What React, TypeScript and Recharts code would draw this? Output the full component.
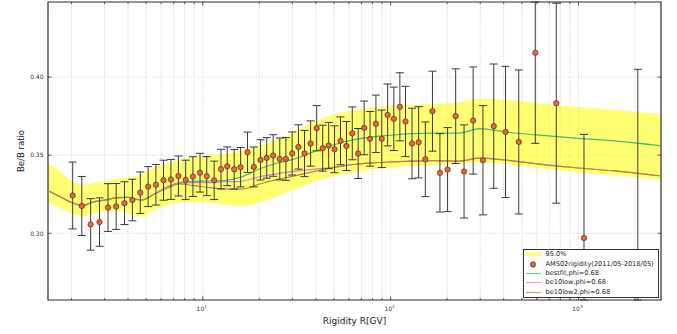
import React from 'react';
import {
  ComposedChart,
  XAxis,
  YAxis,
  CartesianGrid,
  Area,
  Line,
  Scatter,
  ErrorBar,
  Legend,
  ReferenceArea,
} from 'recharts';

// ---------- model curves (grid in rigidity, GV) ----------
const modelR = [1.5, 1.75, 2.0, 2.3, 2.6, 3.0, 3.5, 4.0, 4.7, 5.5, 6.5, 7.5, 9, 11, 13, 16, 20, 25, 30, 40, 50, 65, 80, 100, 130, 170, 230, 300, 400, 600, 1000, 1600, 2750];
const bandHigh = [0.3445, 0.3395, 0.3335, 0.3312, 0.3322, 0.3335, 0.3348, 0.3358, 0.3378, 0.3420, 0.3450, 0.3470, 0.3490, 0.3500, 0.3510, 0.3530, 0.3560, 0.3600, 0.3645, 0.3720, 0.3760, 0.3790, 0.3805, 0.3815, 0.3822, 0.3828, 0.3838, 0.3862, 0.3855, 0.3835, 0.3808, 0.3790, 0.3763];
const bandLow = [0.3201, 0.3160, 0.3128, 0.3110, 0.3125, 0.3140, 0.3145, 0.3125, 0.3108, 0.3148, 0.3180, 0.3195, 0.3200, 0.3195, 0.3185, 0.3172, 0.3195, 0.3235, 0.3275, 0.3335, 0.3365, 0.3392, 0.3410, 0.3420, 0.3430, 0.3438, 0.3445, 0.3455, 0.3445, 0.3420, 0.3390, 0.3370, 0.3344];
const bestfit = [0.3273, 0.3233, 0.3197, 0.3178, 0.3200, 0.3212, 0.3228, 0.3230, 0.3212, 0.3250, 0.3300, 0.3325, 0.3333, 0.3335, 0.3338, 0.3360, 0.3412, 0.3450, 0.3472, 0.3528, 0.3567, 0.3601, 0.3617, 0.3628, 0.3638, 0.3642, 0.3642, 0.3670, 0.3650, 0.3630, 0.3608, 0.3590, 0.3560];
const be10low = [0.3273, 0.3233, 0.3197, 0.3178, 0.3200, 0.3212, 0.3228, 0.3230, 0.3212, 0.3250, 0.3298, 0.3320, 0.3325, 0.3325, 0.3330, 0.3333, 0.3362, 0.3382, 0.3396, 0.3412, 0.3422, 0.3442, 0.3451, 0.3457, 0.3462, 0.3465, 0.3462, 0.3481, 0.3470, 0.3445, 0.3418, 0.3398, 0.3367];
const be10low2 = [0.3273, 0.3233, 0.3197, 0.3178, 0.3200, 0.3212, 0.3228, 0.3230, 0.3212, 0.3250, 0.3290, 0.3316, 0.3305, 0.3292, 0.3284, 0.3283, 0.3315, 0.3345, 0.3365, 0.3398, 0.3422, 0.3442, 0.3451, 0.3457, 0.3462, 0.3465, 0.3462, 0.3481, 0.3470, 0.3445, 0.3418, 0.3398, 0.3367];

// ---------- AMS02 data points ----------
const rigidity = [2.03, 2.27, 2.53, 2.82, 3.13, 3.46, 3.83, 4.22, 4.65, 5.12, 5.63, 6.18, 6.77, 7.42, 8.11, 8.86, 9.67, 10.5, 11.5, 12.5, 13.5, 14.7, 15.9, 17.3, 18.7, 20.3, 21.9, 23.7, 25.7, 27.7, 29.9, 32.3, 34.8, 37.5, 40.4, 43.5, 46.8, 50.3, 54.1, 58.2, 62.5, 67.2, 72.3, 77.7, 83.5, 89.7, 96.4, 104, 112, 120, 130, 141, 153, 167, 183, 201, 222, 246, 275, 310, 354, 409, 481, 589, 762, 1070, 2070];
const ratio = [0.3242, 0.3175, 0.3057, 0.3072, 0.3165, 0.3172, 0.3193, 0.3213, 0.3260, 0.3299, 0.3311, 0.3340, 0.3345, 0.3367, 0.3342, 0.3363, 0.3388, 0.3366, 0.3339, 0.3411, 0.3429, 0.3410, 0.3423, 0.3519, 0.3425, 0.3470, 0.3483, 0.3498, 0.3476, 0.3476, 0.3511, 0.3553, 0.3511, 0.3575, 0.3673, 0.3545, 0.3562, 0.3538, 0.3592, 0.3559, 0.3640, 0.3511, 0.3675, 0.3605, 0.3701, 0.3605, 0.3758, 0.3733, 0.3810, 0.3716, 0.3575, 0.3583, 0.3474, 0.3782, 0.3387, 0.3408, 0.3750, 0.3396, 0.3722, 0.3468, 0.3686, 0.3649, 0.3585, 0.4156, 0.3833, 0.2970, 0.2800];
const ratioErr = [0.0214, 0.0189, 0.0165, 0.0155, 0.0153, 0.0147, 0.0137, 0.0133, 0.0133, 0.0128, 0.0130, 0.0128, 0.0128, 0.0128, 0.0126, 0.0127, 0.0124, 0.0125, 0.0123, 0.0127, 0.0124, 0.0127, 0.0126, 0.0129, 0.0128, 0.0129, 0.0130, 0.0133, 0.0134, 0.0137, 0.0138, 0.0142, 0.0148, 0.0145, 0.0145, 0.0147, 0.0148, 0.0150, 0.0153, 0.0157, 0.0169, 0.0160, 0.0172, 0.0175, 0.0184, 0.0184, 0.0198, 0.0203, 0.0218, 0.0225, 0.0226, 0.0228, 0.0239, 0.0256, 0.0251, 0.0269, 0.0303, 0.0298, 0.0343, 0.0350, 0.0398, 0.0420, 0.0461, 0.0580, 0.0640, 0.0663, 0.1250];

// ---------- axes ----------
const xDomain = [1.5, 2750];
const yDomain = [0.2573, 0.4481];
const xMajorTicks = [10, 100, 1000];
const xMinorTicks = [2, 3, 4, 5, 6, 7, 8, 9, 20, 30, 40, 50, 60, 70, 80, 90, 200, 300, 400, 500, 600, 700, 800, 900, 2000];
const yTicks = [0.3, 0.35, 0.4];

const legendLabels = ['95.0%', 'AMS02rigidity(2011/05-2018/05)', 'bestfit,phi=0.68', 'be10low,phi=0.68', 'be10low2,phi=0.68'];

const modelData = modelR.map((r, i) => ({
  r,
  band: [bandLow[i], bandHigh[i]],
  bestfit: bestfit[i],
  be10low: be10low[i],
  be10low2: be10low2[i],
}));
// error bars are cut at the plot frame, as in the original figure
const pointData = rigidity.map((r, i) => ({
  r,
  v: ratio[i],
  err: [Math.min(ratioErr[i], ratio[i] - yDomain[0]), Math.min(ratioErr[i], yDomain[1] - ratio[i])],
}));
const allXTicks = [...xMajorTicks, ...xMinorTicks].sort((a, b) => a - b);

const FONT = 'DejaVu Sans, Verdana, sans-serif';
const W = 677;
const H = 334;
const PLOT_TOP = 2;
const PLOT_BOTTOM = 300;
const PLOT_LEFT = 48;
const PLOT_RIGHT = 661;

const C_BAND = '#ffff00';
const C_GREEN = '#4cb866';
const C_PINK = '#d77fd8';
const C_OLIVE = '#b68a2c';
const C_DOT = '#e8643c';
const C_AX = '#333333';

const XTick = (props: any) => {
  const { x, payload } = props;
  const v = payload.value;
  const major = xMajorTicks.includes(v);
  const len = major ? 3.5 : 2;
  return (
    <g>
      <line x1={x} x2={x} y1={PLOT_BOTTOM} y2={PLOT_BOTTOM - len} stroke={C_AX} strokeWidth={0.8} />
      <line x1={x} x2={x} y1={PLOT_TOP} y2={PLOT_TOP + len} stroke={C_AX} strokeWidth={0.8} />
      {major && (
        <text x={x - 1} y={310.8} textAnchor="middle" fontSize={6} fill={C_AX} fontFamily={FONT}>
          10
          <tspan dy={-2.6} fontSize={4.3}>{Math.round(Math.log10(v))}</tspan>
        </text>
      )}
    </g>
  );
};

const YTick = (props: any) => {
  const { y, payload } = props;
  return (
    <g>
      <line x1={PLOT_LEFT} x2={PLOT_LEFT + 3.5} y1={y} y2={y} stroke={C_AX} strokeWidth={0.8} />
      <line x1={PLOT_RIGHT} x2={PLOT_RIGHT - 3.5} y1={y} y2={y} stroke={C_AX} strokeWidth={0.8} />
      <text x={43.5} y={y + 2.2} textAnchor="end" fontSize={6} fill={C_AX} fontFamily={FONT}>
        {Number(payload.value).toFixed(2)}
      </text>
    </g>
  );
};

const XLabel = () => (
  <text x={(PLOT_LEFT + PLOT_RIGHT) / 2} y={324} textAnchor="middle" fontSize={9} fill="#222" fontFamily={FONT}>
    Rigidity R[GV]
  </text>
);

const YLabel = () => (
  <text transform={`translate(23.5, ${(PLOT_TOP + PLOT_BOTTOM) / 2}) rotate(-90)`} textAnchor="middle" fontSize={8.5} fill="#222" fontFamily={FONT}>
    Be/B ratio
  </text>
);

const Dot = (props: any) => {
  const { cx, cy } = props;
  if (cx == null || cy == null) return <g />;
  return <circle cx={cx} cy={cy} r={2.7} fill={C_DOT} stroke="#3a2418" strokeWidth={0.6} />;
};

const LegendHandle = ({ i }: { i: number }) => {
  if (i === 0) return <rect x={0} y={2.5} width={15} height={4} fill={C_BAND} fillOpacity={0.55} />;
  if (i === 1) return <circle cx={7} cy={4.5} r={2.7} fill={C_DOT} stroke="#3a2418" strokeWidth={0.6} />;
  const color = i === 2 ? C_GREEN : i === 3 ? C_PINK : C_OLIVE;
  return <line x1={0} x2={15} y1={4.5} y2={4.5} stroke={color} strokeWidth={1.2} strokeOpacity={0.75} />;
};

const renderLegend = () => (
  <div
    style={{
      border: '1px solid #333',
      background: '#fff',
      padding: '0px 2px 0px 1.5px',
      fontFamily: FONT,
      fontSize: 6.6,
      color: '#222',
      width: 136,
      boxSizing: 'border-box',
    }}
  >
    {legendLabels.map((label, i) => (
      <div key={label} style={{ display: 'flex', alignItems: 'center', height: 9.4 }}>
        <svg width={15} height={9} style={{ display: 'block', flex: 'none' }}>
          <LegendHandle i={i} />
        </svg>
        <span style={{ marginLeft: 5, whiteSpace: 'nowrap', lineHeight: '9px', color: '#222' }}>{label}</span>
      </div>
    ))}
  </div>
);

export default function App() {
  return (
    <div style={{ position: 'absolute', left: 0, top: 0, width: W, height: H, background: '#fff' }}>
      <ComposedChart width={W} height={H} data={modelData} margin={{ top: PLOT_TOP, right: W - PLOT_RIGHT, bottom: 0, left: 0 }}>
        <CartesianGrid stroke="#c4c4c4" strokeWidth={0.8} strokeDasharray="1 1.6" />
        <XAxis
          dataKey="r"
          type="number"
          scale="log"
          domain={xDomain}
          allowDataOverflow
          ticks={allXTicks}
          interval={0}
          tick={XTick}
          tickLine={false}
          axisLine={false}
          height={H - PLOT_BOTTOM}
          label={XLabel}
        />
        <YAxis
          type="number"
          domain={yDomain}
          allowDataOverflow
          ticks={yTicks}
          interval={0}
          tick={YTick}
          tickLine={false}
          axisLine={false}
          width={PLOT_LEFT}
          label={YLabel}
        />
        <Area dataKey="band" type="monotone" stroke="none" fill={C_BAND} fillOpacity={0.55} isAnimationActive={false} />
        <Line dataKey="bestfit" type="monotone" stroke={C_GREEN} strokeWidth={1.2} dot={false} isAnimationActive={false} />
        <Line dataKey="be10low" type="monotone" stroke={C_PINK} strokeWidth={1.2} dot={false} isAnimationActive={false} />
        <Line dataKey="be10low2" type="monotone" stroke={C_OLIVE} strokeWidth={1.2} dot={false} isAnimationActive={false} />
        <Scatter data={pointData} dataKey="v" shape={Dot} isAnimationActive={false}>
          <ErrorBar dataKey="err" direction="y" width={4} stroke="#3a3a3a" strokeWidth={1} />
        </Scatter>
        <ReferenceArea x1={xDomain[0]} x2={xDomain[1]} y1={yDomain[0]} y2={yDomain[1]} fill="none" stroke={C_AX} strokeWidth={1.2} ifOverflow="visible" />
        <Legend
          layout="vertical"
          align="center"
          verticalAlign="middle"
          content={renderLegend}
          wrapperStyle={{ position: 'absolute', left: 523, top: 249, width: 136, height: 'auto' }}
        />
      </ComposedChart>
    </div>
  );
}
